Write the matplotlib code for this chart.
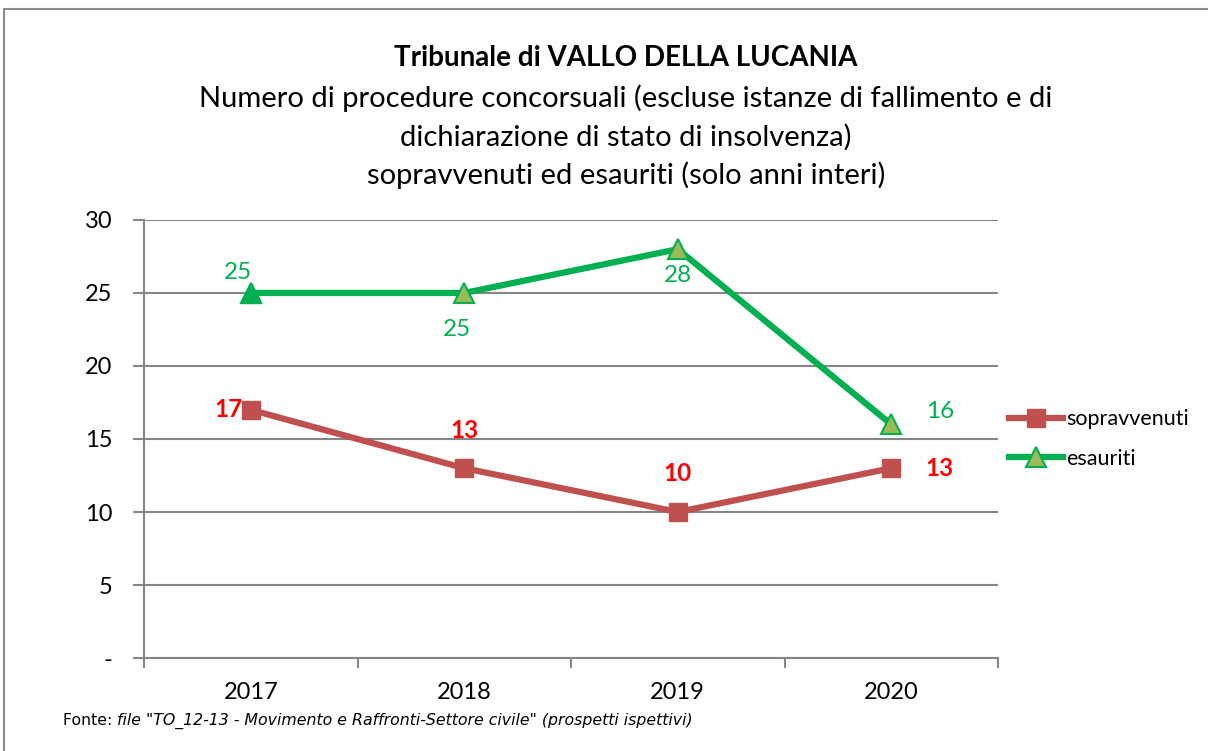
import matplotlib
matplotlib.use("Agg")
from matplotlib import pyplot as plt
from matplotlib.patches import Rectangle

plt.rcParams['font.family'] = ['Lato', 'DejaVu Sans']

# Data
anni = ['2017', '2018', '2019', '2020']
sopravvenuti = [17, 13, 10, 13]
esauriti = [25, 25, 28, 16]

red_line = '#C0504D'
green_line = '#00B050'
grid_col = '#868686'

fig = plt.figure(figsize=(12.08, 7.51), dpi=100)
ax = fig.add_axes([0.1192, 0.1238, 0.707, 0.5833])

x = list(range(len(anni)))

# Lines with markers
ax.plot(x, sopravvenuti, color=red_line, lw=4.5, marker='s', ms=13,
        mfc=red_line, mec=red_line, label='sopravvenuti', zorder=3)
ax.plot(x, esauriti, color=green_line, lw=4.5, marker='^', ms=14,
        mfc='#9BBB59', mec=green_line, mew=1.5, label='esauriti', zorder=3)
# first triangle is fully green
ax.plot(x[:1], esauriti[:1], linestyle='none', marker='^', ms=14,
        mfc=green_line, mec=green_line, zorder=4)

# Data labels (offsets in points)
red_off = [(-16, 0), (0, 27), (0, 28), (35, 0)]
green_off = [(-9, 15), (-5, -26), (0, -19), (35, 9)]
for i in x:
    ax.annotate(str(sopravvenuti[i]), (x[i], sopravvenuti[i]),
                xytext=red_off[i], textcoords='offset points',
                ha='center', va='center', color='#FF0000',
                fontsize=17.5, fontweight='bold')
    ax.annotate(str(esauriti[i]), (x[i], esauriti[i]),
                xytext=green_off[i], textcoords='offset points',
                ha='center', va='center', color=green_line, fontsize=17.5)

# Axes styling
ax.set_xlim(-0.5, 3.5)
ax.set_ylim(0, 30)
ax.set_yticks([0, 5, 10, 15, 20, 25, 30])
ax.set_yticklabels(['-', '5', '10', '15', '20', '25', '30'])
ax.set_xticks(x)
ax.set_xticklabels(anni)
ax.set_xticks([-0.5, 0.5, 1.5, 2.5, 3.5], minor=True)
ax.tick_params(axis='x', which='major', length=0, pad=17, labelsize=17)
ax.tick_params(axis='x', which='minor', length=7, color=grid_col, width=1.5)
ax.tick_params(axis='y', length=8, color=grid_col, width=1.5, pad=15, labelsize=17)
ax.grid(axis='y', color=grid_col, lw=1.5)
ax.set_axisbelow(True)
for s in ['top', 'right']:
    ax.spines[s].set_visible(False)
for s in ['left', 'bottom']:
    ax.spines[s].set_color(grid_col)
    ax.spines[s].set_linewidth(1.5)

# Legend
leg = ax.legend(loc='center left', bbox_to_anchor=(1.0, 0.5), frameon=False,
                fontsize=15.5, handlelength=2.5, handletextpad=0.15,
                labelspacing=0.9, borderaxespad=0.1)
leg.legend_handles[1].set_markerfacecolor('#9BBB59')

# Titles
fig.text(0.518, 0.923, 'Tribunale di VALLO DELLA LUCANIA', ha='center', va='center',
         fontsize=20, fontweight='bold')
fig.text(0.518, 0.8176, 'Numero di procedure concorsuali (escluse istanze di fallimento e di\n'
         'dichiarazione di stato di insolvenza)\nsopravvenuti ed esauriti (solo anni interi)',
         ha='center', va='center', fontsize=21, linespacing=1.5)

# Source note
t1 = fig.text(0.052, 0.04, 'Fonte: ', ha='left', va='center', fontsize=11.3,
              family='DejaVu Sans')
fig.canvas.draw()
bb = t1.get_window_extent()
fig.text(bb.x1 / fig.bbox.width, 0.04,
         'file "TO_12-13 - Movimento e Raffronti-Settore civile" (prospetti ispettivi)',
         ha='left', va='center', fontsize=11.3, style='italic', family='DejaVu Sans')

# Outer frame
fig.patches.append(Rectangle((0.003, -0.1), 1.1, 1.088, transform=fig.transFigure,
                             fill=False, edgecolor='#8C8C8C', lw=1.5))

fig.savefig('out.png', dpi=100, facecolor='white')
